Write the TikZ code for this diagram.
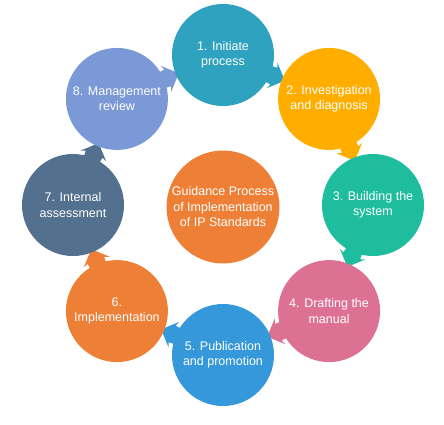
\documentclass[tikz,border=0pt]{standalone}
\usepackage{fontspec}
\setmainfont{Liberation Sans}
\usepackage{tikz}
\usetikzlibrary{backgrounds}
\definecolor{cinit}{HTML}{2EA2BE}
\definecolor{cinv}{HTML}{FFAE00}
\definecolor{cbuild}{HTML}{1DBD9D}
\definecolor{cdraft}{HTML}{DD7194}
\definecolor{cpub}{HTML}{3498DB}
\definecolor{cimpl}{HTML}{EE7F36}
\definecolor{cassess}{HTML}{53708F}
\definecolor{creview}{HTML}{7B98D7}
\tikzset{
  stage/.style={circle, minimum size=102pt, inner sep=0pt, align=center, text=white, font=\fontsize{12.5}{15.5}\selectfont},
  hub/.style={stage, minimum size=113pt},
}

\begin{document}
\begin{tikzpicture}[x=1pt,y=1pt]
\useasboundingbox (-223,-219) rectangle (221,205);
\node[hub, fill=cimpl] (hub) at (0,-2) {Guidance Process\\of Implementation\\of IP Standards};
\foreach \i/\c/\t in {1/cinit/{1. Initiate\\process},
                      2/cinv/{2. Investigation\\and diagnosis},
                      3/cbuild/{3. Building the\\system},
                      4/cdraft/{4. Drafting the\\manual},
                      5/cpub/{5. Publication\\and promotion},
                      6/cimpl/{6.\\Implementation},
                      7/cassess/{7. Internal\\assessment},
                      8/creview/{8. Management\\review}} {
  \node[stage, fill=\c] (s\i) at ({135-45*\i}:150) {\t};
}
% arrow tips, tucked under the next stage
\begin{scope}[on background layer]
\foreach \i/\c in {1/cinit,2/cinv,3/cbuild,4/cdraft,5/cpub,6/cimpl,7/cassess,8/creview}
  \fill[\c, shift={(s\i.center)}, rotate={22.5-45*\i}]
    (44,8) -- (55,9) -- (53,14) -- (67,0) -- (53,-14) -- (55,-9) -- (44,-8) -- cycle;
\end{scope}
\end{tikzpicture}
\end{document}
